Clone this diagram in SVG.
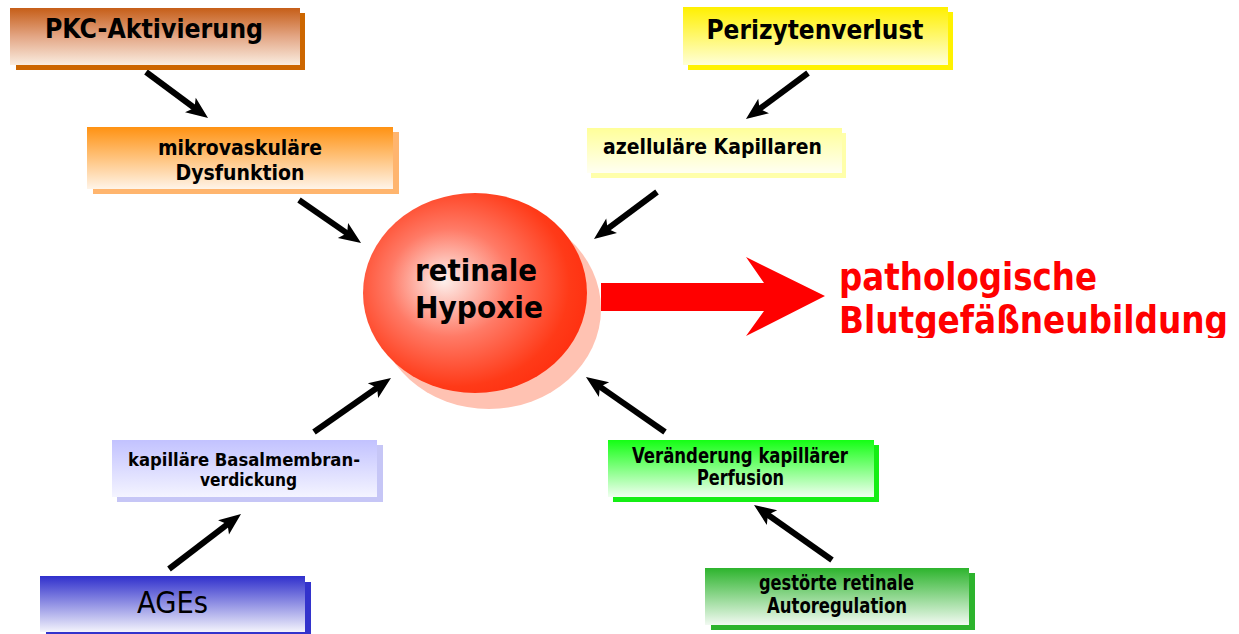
<svg xmlns="http://www.w3.org/2000/svg" width="1239" height="634" viewBox="0 0 1239 634">
<defs>
<style>
.t{font-family:"DejaVu Sans Condensed","DejaVu Sans",sans-serif;font-weight:bold;fill:#000;text-anchor:middle;font-stretch:condensed}
.big{font-size:26px}
.sm{font-size:20.5px}
.xs{font-size:18.5px}
.red{font-size:37px;fill:#FF0000;text-anchor:start}
.ar{stroke:#000;stroke-width:6;fill:none}
</style>
<linearGradient id="gPKC" x1="0" y1="0" x2="0" y2="1"><stop offset="0" stop-color="#C65E18"/><stop offset="0.5" stop-color="#E3A685"/><stop offset="1" stop-color="#FAEDE0"/></linearGradient>
<linearGradient id="gMik" x1="0" y1="0" x2="0" y2="1"><stop offset="0" stop-color="#FF9212"/><stop offset="1" stop-color="#FFF4E8"/></linearGradient>
<linearGradient id="gPer" x1="0" y1="0" x2="0" y2="1"><stop offset="0" stop-color="#FFF000"/><stop offset="1" stop-color="#FFFFD8"/></linearGradient>
<linearGradient id="gAze" x1="0" y1="0" x2="0" y2="1"><stop offset="0" stop-color="#FFFF99"/><stop offset="1" stop-color="#FFFFF2"/></linearGradient>
<linearGradient id="gBas" x1="0" y1="0" x2="0" y2="1"><stop offset="0" stop-color="#C2C2FF"/><stop offset="1" stop-color="#F4F4FF"/></linearGradient>
<linearGradient id="gVer" x1="0" y1="0" x2="0" y2="1"><stop offset="0" stop-color="#14FF14"/><stop offset="1" stop-color="#F0FFF0"/></linearGradient>
<linearGradient id="gAGE" x1="0" y1="0" x2="0" y2="1"><stop offset="0" stop-color="#3030CC"/><stop offset="1" stop-color="#F4F4FC"/></linearGradient>
<linearGradient id="gGes" x1="0" y1="0" x2="0" y2="1"><stop offset="0" stop-color="#2DB42D"/><stop offset="1" stop-color="#F2FAF2"/></linearGradient>
<radialGradient id="gHyp" cx="0.42" cy="0.46" r="0.6" fx="0.36" fy="0.44"><stop offset="0" stop-color="#FDF0EC"/><stop offset="0.45" stop-color="#FF7A66"/><stop offset="0.85" stop-color="#FF3A18"/><stop offset="1" stop-color="#FF3010"/></radialGradient>
<marker id="ah" markerUnits="userSpaceOnUse" orient="auto" markerWidth="30" markerHeight="30" refX="0" refY="0" viewBox="-10 -12 30 24" overflow="visible">
<path d="M16,0 L-6,-9 L-1,0 L-6,9 Z" fill="#000"/>
</marker>
<clipPath id="cpText"><rect x="820" y="240" width="419" height="98"/></clipPath>
</defs>

<g id="connectors">
<line class="ar" x1="146" y1="72" x2="195.2" y2="108.5" marker-end="url(#ah)"/>
<line class="ar" x1="299" y1="200" x2="347.9" y2="233.9" marker-end="url(#ah)"/>
<line class="ar" x1="808" y1="73" x2="758.8" y2="109.5" marker-end="url(#ah)"/>
<line class="ar" x1="657" y1="192" x2="606.8" y2="229.4" marker-end="url(#ah)"/>
<line class="ar" x1="314" y1="432" x2="377.9" y2="387.2" marker-end="url(#ah)"/>
<line class="ar" x1="169" y1="569" x2="228.3" y2="523.7" marker-end="url(#ah)"/>
<line class="ar" x1="665" y1="432" x2="599.1" y2="386.1" marker-end="url(#ah)"/>
<line class="ar" x1="832" y1="560" x2="767.1" y2="514.2" marker-end="url(#ah)"/>
<path id="bigArrow" d="M601,283 L764,283 L746,257 L825,296 L746,336 L764,311 L601,311 Z" fill="#FF0000"/>
</g>

<g id="pkc">
<rect x="16" y="13" width="289" height="57" fill="#CC6600"/>
<rect x="10" y="8" width="290" height="57" fill="url(#gPKC)"/>
<text class="t big" x="154" y="38" textLength="218" lengthAdjust="spacingAndGlyphs">PKC-Aktivierung</text>
</g>

<g id="mikro">
<rect x="93" y="132" width="306" height="62" fill="#FFB56E"/>
<rect x="87" y="127" width="306" height="62" fill="url(#gMik)"/>
<text class="t sm" x="240" y="155" textLength="164" lengthAdjust="spacingAndGlyphs">mikrovaskuläre</text>
<text class="t sm" x="240" y="180" textLength="129" lengthAdjust="spacingAndGlyphs">Dysfunktion</text>
</g>

<g id="perizyten">
<rect x="688" y="12" width="265" height="58" fill="#FFF200"/>
<rect x="683" y="7" width="265" height="58" fill="url(#gPer)"/>
<text class="t big" x="815" y="39" textLength="217" lengthAdjust="spacingAndGlyphs">Perizytenverlust</text>
</g>

<g id="azell">
<rect x="591" y="133" width="255" height="45" fill="#FFFFAA"/>
<rect x="587" y="128" width="255" height="45" fill="url(#gAze)"/>
<text class="t sm" x="712.5" y="154" textLength="219" lengthAdjust="spacingAndGlyphs">azelluläre Kapillaren</text>
</g>

<g id="hypoxie">
<ellipse cx="489" cy="309" rx="112" ry="100" fill="#FFC2B2"/>
<ellipse cx="475" cy="293" rx="112" ry="100" fill="url(#gHyp)"/>
<text class="t" style="font-size:30.5px" x="476" y="281" textLength="122" lengthAdjust="spacingAndGlyphs">retinale</text>
<text class="t" style="font-size:30.5px" x="479" y="318" textLength="128" lengthAdjust="spacingAndGlyphs">Hypoxie</text>
</g>

<g id="neubildung">
<g clip-path="url(#cpText)">
<text class="t red" x="839" y="290" textLength="258" lengthAdjust="spacingAndGlyphs">pathologische</text>
<text class="t red" x="839" y="333" textLength="389" lengthAdjust="spacingAndGlyphs">Blutgefäßneubildung</text>
</g>
</g>

<g id="basal">
<rect x="117" y="445" width="266" height="57" fill="#C6C6F6"/>
<rect x="112" y="440" width="265" height="57" fill="url(#gBas)"/>
<text class="t xs" x="244" y="466" textLength="232" lengthAdjust="spacingAndGlyphs">kapilläre Basalmembran-</text>
<text class="t xs" x="248.5" y="486" textLength="97" lengthAdjust="spacingAndGlyphs">verdickung</text>
</g>

<g id="veraenderung">
<rect x="613" y="445" width="266" height="57" fill="#14EE14"/>
<rect x="608" y="440" width="266" height="57" fill="url(#gVer)"/>
<text class="t sm" x="740" y="463" textLength="216" lengthAdjust="spacingAndGlyphs">Veränderung kapillärer</text>
<text class="t sm" x="740.5" y="485" textLength="87" lengthAdjust="spacingAndGlyphs">Perfusion</text>
</g>

<g id="ages">
<rect x="46" y="582" width="265" height="52" fill="#3333CC"/>
<rect x="40" y="576" width="265" height="56" fill="url(#gAGE)"/>
<text class="t" style="font-size:30px;font-weight:normal" x="172.5" y="613" textLength="71" lengthAdjust="spacingAndGlyphs">AGEs</text>
</g>

<g id="gestoert">
<rect x="711" y="573" width="264" height="57" fill="#2DB42D"/>
<rect x="705" y="568" width="264" height="57" fill="url(#gGes)"/>
<text class="t sm" x="836.5" y="590" textLength="155" lengthAdjust="spacingAndGlyphs">gestörte retinale</text>
<text class="t sm" x="837" y="613" textLength="140" lengthAdjust="spacingAndGlyphs">Autoregulation</text>
</g>
</svg>
